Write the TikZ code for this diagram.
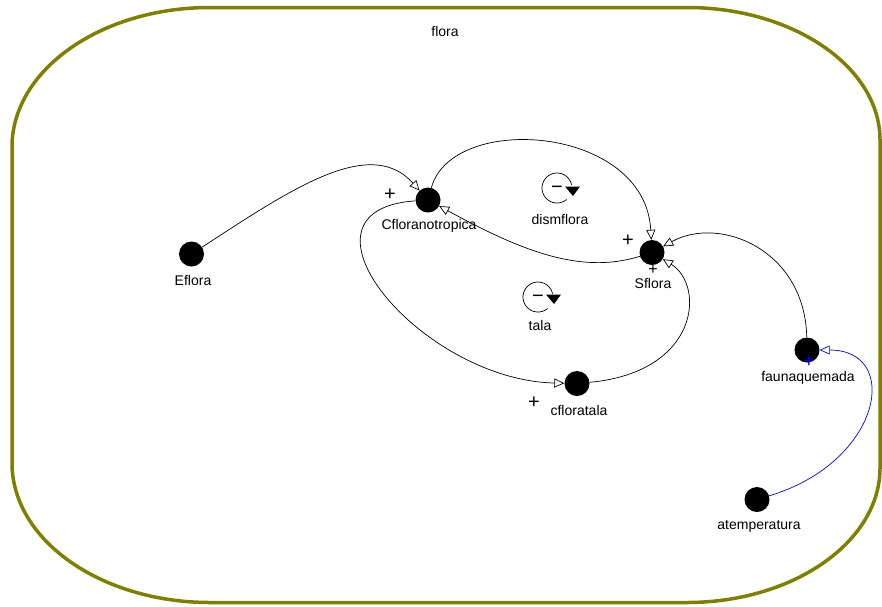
\documentclass[tikz,border=0pt]{standalone}
\usepackage{fontspec}
\setmainfont{Liberation Sans}
\usetikzlibrary{arrows.meta}
\definecolor{olivebd}{RGB}{128,128,0}
\definecolor{linkblue}{RGB}{0,0,255}
\begin{document}
\begin{tikzpicture}[x=1pt,y=-1pt,
  varnode/.style={circle, fill=black, minimum size=25pt, inner sep=0pt},
  lbl/.style={font=\fontsize{14}{16}\selectfont, inner sep=0pt},
  sgn/.style={font=\fontsize{20}{20}\selectfont, inner sep=0pt},
  conn/.style={draw=black, line width=0.7pt, -{Triangle[open,length=10pt,width=9pt]}},
  bconn/.style={draw=linkblue, line width=0.7pt, -{Triangle[open,length=10pt,width=9pt]}},
  loopc/.style={draw=black, line width=0.7pt}]
\useasboundingbox (0,0) rectangle (882,606);
% border
\draw[olivebd, line width=3.5pt]
  (210,7.5) -- (687,7.5) .. controls (793,7.5) and (880,67) .. (880,140)
  -- (880,468) .. controls (880,542) and (793,602.5) .. (687,602.5)
  -- (210,602.5) .. controls (101,602.5) and (12,540) .. (12,463)
  -- (12,147) .. controls (12,70) and (101,7.5) .. (210,7.5) -- cycle;
\node[lbl] (title) at (445,31) {flora};
% variables
\node[varnode] (Ef) at (191.5,254) {};
\node[varnode] (Cf) at (428,200) {};
\node[varnode] (Sf) at (652,252.5) {};
\node[varnode] (ct) at (577,383.5) {};
\node[varnode] (fq) at (807,350) {};
\node[varnode] (at) at (757,499.5) {};
\node[lbl] (EfL) at (193,280) {Eflora};
\node[lbl] (CfL) at (429,226) {Cfloranotropica};
\node[lbl] (SfL) at (653,283) {Sflora};
\node[lbl] (ctL) at (579,410) {cfloratala};
\node[lbl] (fqL) at (808,378) {faunaquemada};
\node[lbl] (atL) at (759,526) {atemperatura};
% links
\draw[conn] (Ef) .. controls (290,190) and (370,135) .. (Cf);
\draw[conn] (Cf) .. controls (452,112) and (645,125) .. (Sf);
\draw[conn] (Sf) .. controls (580,275) and (520,250) .. (Cf);
\draw[conn] (Cf) .. controls (280,210) and (420,380) .. (ct);
\draw[conn] (ct) .. controls (700,372) and (705,285) .. (Sf);
\draw[conn] (fq) .. controls (805,250) and (720,215) .. (Sf);
\draw[bconn] (at) .. controls (882,462) and (902,350) .. (fq);
% polarity signs
\node[sgn] (p1) at (390,195) {+};
\node[sgn] (p2) at (628,241) {+};
\node[font=\fontsize{16}{16}\selectfont, inner sep=0pt] (p3) at (433,210) {−};
\node[sgn] (p4) at (534,403) {+};
\node[font=\fontsize{16}{16}\selectfont, inner sep=0pt] (p5) at (653,270) {+};
\node[sgn, text=linkblue] (p6) at (809,362) {+};
% loops
\coordinate (L1) at (557,188);
\coordinate (L2) at (538,297);
\draw[loopc] ([shift={(50:15)}]L1) arc[start angle=50, end angle=348, radius=15];
\fill ([shift={(8,-1.5)}]L1) -- ([shift={(23,-1.5)}]L1) -- ([shift={(16,8)}]L1) -- cycle;
\draw[loopc] ([shift={(50:15)}]L2) arc[start angle=50, end angle=348, radius=15];
\fill ([shift={(8,-2.5)}]L2) -- ([shift={(23,-2.5)}]L2) -- ([shift={(16,7)}]L2) -- cycle;
\node[font=\fontsize{20}{20}\selectfont, inner sep=0pt] (m1) at (557,190) {−};
\node[font=\fontsize{20}{20}\selectfont, inner sep=0pt] (m2) at (538,299) {−};
\node[lbl] (L1L) at (560,219) {dismflora};
\node[lbl] (L2L) at (540,325) {tala};
\end{tikzpicture}
\end{document}
